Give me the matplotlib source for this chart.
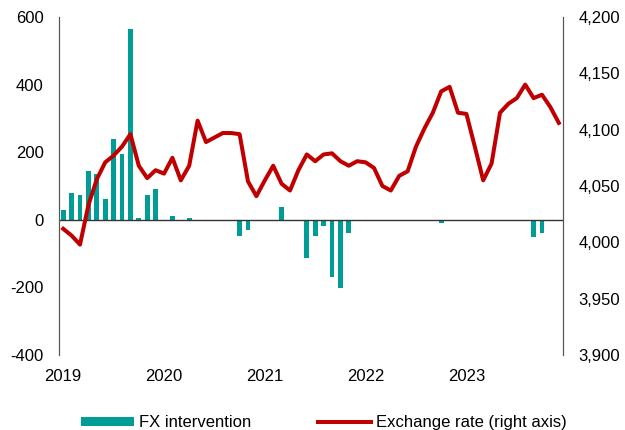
#!/usr/bin/env python3
"""
FX intervention (bars, left axis) vs exchange rate (line, right axis), 2019-2023 monthly.
"""
import numpy as np
import matplotlib
matplotlib.use("Agg")
import matplotlib.pyplot as plt

plt.rcParams["font.family"] = ["Liberation Sans", "DejaVu Sans"]
plt.rcParams["axes.unicode_minus"] = False

# monthly data, Jan 2019 .. Dec 2023
years = ["2019", "2020", "2021", "2022", "2023"]
fx_intervention = [
    28, 78, 72, 144, 136, 62, 240, 195, 563, 4, 73, 90,          # 2019
    0, 10, 0, 6, 0, 0, 0, 0, 0, -49, -29, 0,                     # 2020
    0, 0, 38, 0, 0, -112, -48, -18, -170, -201, -38, 0,          # 2021
    0, 0, 0, 0, 0, 0, 0, 0, 0, -9, 0, 0,                         # 2022
    0, 0, 0, 0, 0, 0, 0, 0, -51, -40, 0, 0,                      # 2023
]
exchange_rate = [
    4012, 4006, 3998, 4033, 4056, 4071, 4077, 4085, 4096, 4068, 4057, 4064,
    4061, 4075, 4055, 4068, 4108, 4089, 4093, 4097, 4097, 4096, 4054, 4041,
    4055, 4068, 4052, 4046, 4064, 4078, 4072, 4078, 4079, 4072, 4068, 4072,
    4071, 4066, 4050, 4046, 4059, 4063, 4085, 4101, 4115, 4134, 4138, 4115,
    4114, 4085, 4055, 4070, 4115, 4123, 4128, 4140, 4128, 4131, 4120, 4106,
]

TEAL = "#009C96"
RED = "#C00000"


def main():
    x = np.arange(len(fx_intervention))

    fig = plt.figure(figsize=(6.25, 4.3), dpi=100)
    ax = fig.add_axes([0.0944, 0.1744, 0.8064, 0.7861])
    ax2 = ax.twinx()

    bars = ax.bar(x, fx_intervention, width=0.56, color=TEAL, zorder=2,
                  label="FX intervention")
    ax.axhline(0, color="#333333", lw=1.0, zorder=3)
    line, = ax2.plot(x, exchange_rate, color=RED, lw=2.9,
                     solid_joinstyle="round", label="Exchange rate (right axis)")

    ax.set_xlim(-0.5, len(x) - 0.5)
    ax.set_ylim(-400, 600)
    ax.set_yticks(np.arange(-400, 601, 200))
    ax2.set_ylim(3900, 4200)
    ax2.set_yticks(np.arange(3900, 4201, 50))
    ax2.set_yticklabels([f"{v:,}" for v in range(3900, 4201, 50)])

    ax.set_xticks(np.arange(0, len(x), 12))
    ax.set_xticklabels(years)

    for a in (ax, ax2):
        a.tick_params(length=0, labelsize=12)
        a.spines["top"].set_visible(False)
        a.spines["bottom"].set_visible(False)
        a.spines["left"].set_color("#555555")
        a.spines["right"].set_color("#555555")
    ax.tick_params(axis="y", pad=11)
    ax2.tick_params(axis="y", pad=11)
    ax.tick_params(axis="x", pad=10)

    fig.legend([bars, line], ["FX intervention", "Exchange rate (right axis)"],
               loc="center", bbox_to_anchor=(0.518, 0.0163), ncol=2,
               frameon=False, fontsize=12, handlelength=3.2, handleheight=0.5,
               handletextpad=0.3, columnspacing=4.0)

    fig.savefig("out.png", dpi=100)


if __name__ == "__main__":
    main()
